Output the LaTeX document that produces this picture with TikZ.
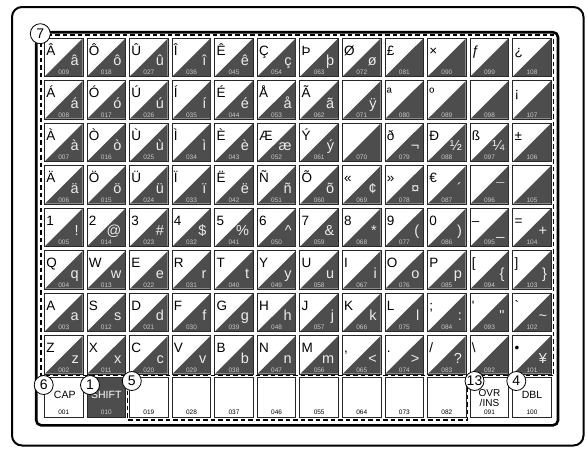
\documentclass[tikz,border=0pt]{standalone}
\usepackage{fontspec}
\setmainfont{Liberation Sans}
\usetikzlibrary{calc}
\definecolor{keydark}{HTML}{4D4D4D}
\definecolor{numgray}{HTML}{C8C8C8}
\newcommand{\padnum}[1]{\ifnum#1<10 00\else\ifnum#1<100 0\fi\fi#1}
% one row of split keys: #1 = row from the top, #2 = upper/lower pairs
\newcommand{\keyrow}[2]{%
  \foreach \up/\lo [count=\col] in {#2} {
    \pgfmathtruncatemacro{\num}{9*\col-#1+1}
    \node[keybox] (k\num) at ({63.75+42.57*(\col-1)},{57.4+42.5*(#1-1)}) {};
    \fill[keydark] ([shift={(-0.9,0.9)}]k\num.north east) -- ([shift={(-0.9,-0.9)}]k\num.south east)
      -- ([shift={(0.9,-0.9)}]k\num.south west) -- cycle;
    \node[uplbl] (u\num) at ([shift={(2,17.5)}]k\num.north west) {\up};
    \node[lolbl] (l\num) at ([shift={(-4.5,28)}]k\num.north east) {\lo};
    \node[numlbl] (n\num) at ([shift={(0,-2.4)}]k\num.south) {\padnum{\num}};
  }}

\begin{document}
\begin{tikzpicture}[x=1pt, y=-1pt,
  keybox/.style={draw=black!85, line width=0.9pt, fill=white, minimum width=38.5pt, minimum height=38.4pt, inner sep=0pt},
  uplbl/.style={anchor=base west, inner sep=0pt, font=\fontsize{13.5}{14}\selectfont},
  lolbl/.style={anchor=base east, inner sep=0pt, text=white!92!black, font=\fontsize{14.5}{15}\selectfont},
  numlbl/.style={anchor=base, inner sep=0pt, text=numgray, font=\fontsize{6.5}{7}\selectfont},
  btnlbl/.style={inner sep=0pt, align=center, font=\fontsize{10.5}{10.5}\selectfont},
  numcirc/.style={circle, draw, line width=0.8pt, fill=white, minimum size=19pt, inner sep=0pt, font=\fontsize{14}{14}\selectfont},
  dashbox/.style={dash pattern=on 4.5pt off 3pt, line width=1.5pt}
]
  \useasboundingbox (0,0) rectangle (588,450);

  % Frames
  \draw[line width=2pt, rounded corners=10pt] (12,7) rectangle (583.5,445.5);
  \draw[line width=2.6pt, rounded corners=5pt] (36.2,32.2) rectangle (558,425.3);
  \draw[dashbox] (41,35) rectangle (553.5,375.5);
  \draw[dashbox] (127.7,375.5) -- (127.7,420) -- (467.3,420) -- (467.3,375.5);

  % Character keys
  \keyrow{1}{Â/â, Ô/ô, Û/û, Î/î, Ê/ê, Ç/ç, Þ/þ, Ø/ø, £/{}, ×/{}, ƒ/{}, ¿/{}}
  \keyrow{2}{Á/á, Ó/ó, Ú/ú, Í/í, É/é, Å/å, Ã/ã, {}/ÿ, ª/{}, º/{}, {}/{}, ¡/{}}
  \keyrow{3}{À/à, Ò/ò, Ù/ù, Ì/ì, È/è, Æ/æ, Ý/ý, {}/{}, ð/¬, Ð/½, ß/¼, ±/{}}
  \keyrow{4}{Ä/ä, Ö/ö, Ü/ü, Ï/ï, Ë/ë, Ñ/ñ, Õ/õ, «/¢, »/¤, €/´, {}/¯, {}/{}}
  \keyrow{5}{1/!, 2/@, 3/\#, 4/\$, 5/\%, 6/\textasciicircum, 7/\&, 8/*, 9/(, 0/), –/\_, =/+}
  \keyrow{6}{Q/q, W/w, E/e, R/r, T/t, Y/y, U/u, I/i, O/o, P/p, [/\{, ]/\}}
  \keyrow{7}{A/a, S/s, D/d, F/f, G/g, H/h, J/j, K/k, L/l, ;/:, \textquotesingle/\textquotedbl, \textasciigrave/\textasciitilde}
  \keyrow{8}{Z/z, X/x, C/c, V/v, B/b, N/n, M/m, {,}/<, ./>, {/}/?, \textbackslash/{}, •/¥}

  % Function keys
  \foreach \col in {1,...,12} {
    \pgfmathtruncatemacro{\num}{9*\col-8}
    \node[keybox, minimum height=40pt] (k\num) at ({63.75+42.57*(\col-1)},397.3) {};
  }
  \fill[keydark] ([shift={(0.9,0.9)}]k10.north west) rectangle ([shift={(-0.9,-0.9)}]k10.south east);
  \foreach \col in {1,...,12} {
    \pgfmathtruncatemacro{\num}{9*\col-8}
    \def\ncol{black}\ifnum\col=2 \def\ncol{numgray}\fi
    \node[numlbl, text=\ncol] (n\num) at ([shift={(0,-3)}]k\num.south) {\padnum{\num}};
  }
  \node[btnlbl] (t1) at ([shift={(1,-2)}]k1.center) {CAP};
  \node[btnlbl, text=white] (t10) at ([shift={(0,-2)}]k10.center) {SHIFT};
  \node[btnlbl, font=\fontsize{10}{9.8}\selectfont] (t91) at ([shift={(0,0.8)}]k91.center) {OVR\\/INS};
  \node[btnlbl] (t100) at ([shift={(0,-2)}]k100.center) {DBL};

  % Callout numbers
  \node[numcirc, minimum size=20pt] (c7) at (40.3,33.7) {7};
  \node[numcirc] (c6) at (43.7,385) {6};
  \node[numcirc] (c1) at (90,385) {1};
  \node[numcirc] (c5) at (131.8,381) {5};
  \node[numcirc] (c13) at (474.5,381) {13};
  \node[numcirc] (c4) at (516.3,381) {4};
\end{tikzpicture}
\end{document}
